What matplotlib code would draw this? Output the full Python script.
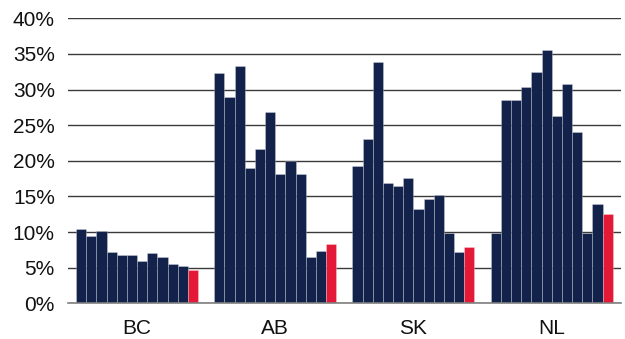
import matplotlib
matplotlib.use("Agg")
import matplotlib.pyplot as plt
import numpy as np

groups = ["BC", "AB", "SK", "NL"]
bc = [10.4, 9.5, 10.1, 7.2, 6.8, 6.8, 6.0, 7.0, 6.5, 5.5, 5.3, 4.7]
ab = [32.3, 28.9, 33.3, 19.0, 21.7, 26.9, 18.2, 20.0, 18.2, 6.5, 7.3, 8.3]
sk = [19.3, 23.1, 33.8, 16.9, 16.4, 17.6, 13.2, 14.6, 15.2, 9.9, 7.2, 7.9]
nl = [9.9, 28.6, 28.6, 30.4, 32.4, 35.5, 26.3, 30.8, 24.1, 9.9, 13.9, 12.6]
series = [bc, ab, sk, nl]
yticks = [0, 5, 10, 15, 20, 25, 30, 35, 40]

navy = "#12224a"
red = "#e31937"

fig = plt.figure(figsize=(6.25, 3.39), dpi=100)
ax = fig.add_axes([68/625, 1-303.3/339, (621-68)/625, (303.3-18.3)/339])

group_step = 13.6
centers = []
for g, vals in enumerate(series):
    n = len(vals)
    xs = g*group_step + np.arange(n)
    colors = [navy]*(n-1) + [red]
    ax.bar(xs, vals, width=1.0, color=colors, edgecolor=(1, 1, 1, 0.3), linewidth=0.6, zorder=3)
    centers.append(g*group_step + (n-1)/2)

ax.set_xlim(-1.29, 53.12)
ax.set_ylim(0, 40)
ax.set_yticks(yticks)
ax.set_yticklabels([f"{v}%" for v in yticks])
ax.set_xticks(centers)
ax.set_xticklabels(groups)

ax.grid(axis="y", color="#3a3a3a", linewidth=1.0, zorder=0)
ax.set_axisbelow(True)
for s in ["top", "right", "left"]:
    ax.spines[s].set_visible(False)
ax.spines["bottom"].set_color("#808080")
ax.spines["bottom"].set_linewidth(1.2)
ax.spines["bottom"].set_zorder(4)

ax.tick_params(axis="y", length=0, pad=9.5, labelsize=15, labelcolor="#111111")
ax.tick_params(axis="x", length=0, pad=11, labelsize=15, labelcolor="#111111")
for lab in ax.get_xticklabels() + ax.get_yticklabels():
    lab.set_fontfamily("Liberation Sans")

fig.savefig("out.png", dpi=100)
